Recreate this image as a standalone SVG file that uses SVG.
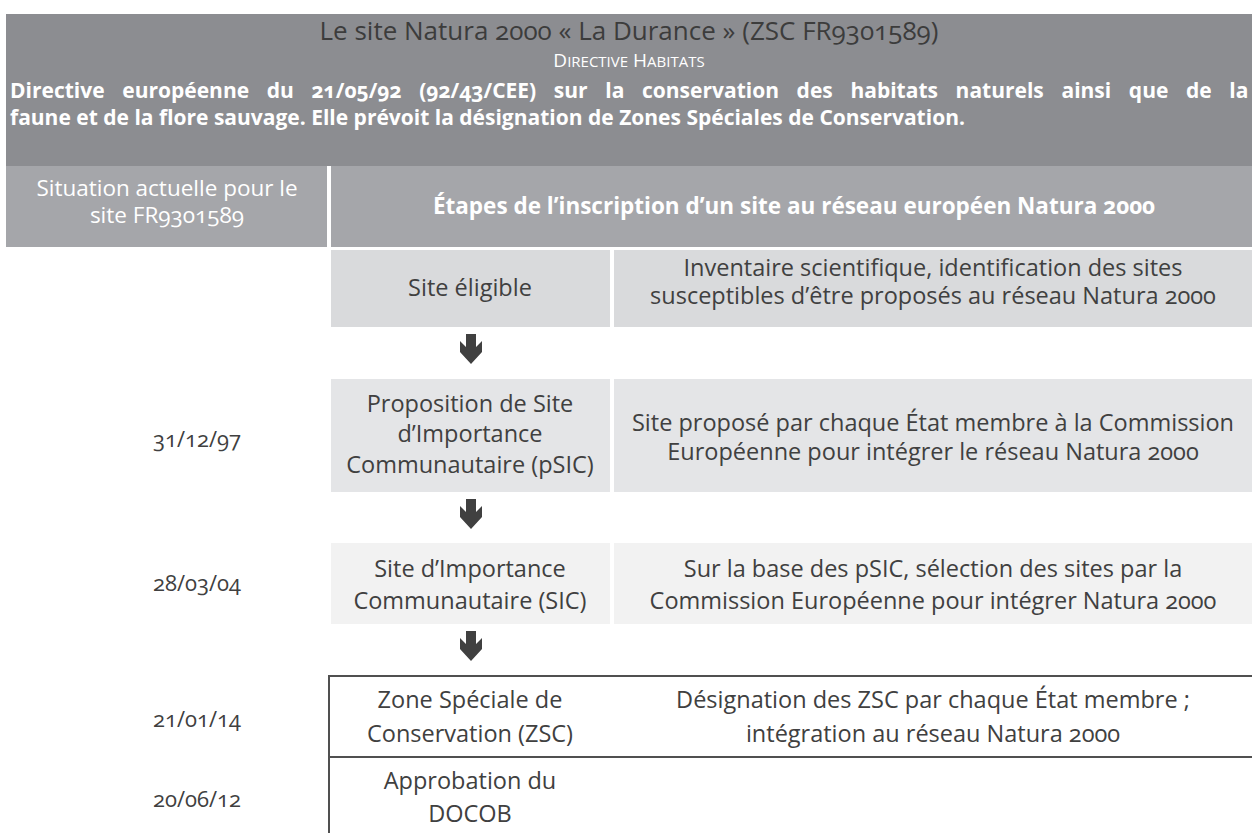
<svg xmlns="http://www.w3.org/2000/svg" width="1252" height="833" viewBox="0 0 1252 833">
<style>
text{font-family:"Open Sans",Lato,"Liberation Sans",sans-serif;font-variant-numeric:oldstyle-nums;text-anchor:middle}
.t{font-size:23.5px;fill:#404040}
.d{font-size:22px;fill:#404040}
.w{font-size:22.5px;fill:#ffffff}
.b{font-size:21px;fill:#ffffff;font-weight:bold}
.ln{stroke:#505050;stroke-width:2;fill:none}
.arr{fill:#404040}
</style>
<defs>
<polygon id="arrow" points="-5,0 5,0 5,13 11,7 11,18 0,30 -11,18 -11,7 -5,13"/>
</defs>
<rect width="1252" height="833" fill="#ffffff"/>
<g id="header">
<rect x="6" y="14" width="1246" height="152" fill="#8c8d91"/>
<text x="629" y="40" font-size="26" fill="#3c3c3c">Le site Natura 2000 « La Durance » (ZSC FR9301589)</text>
<text x="629" y="67" fill="#ffffff" font-size="19">D<tspan font-size="15">IRECTIVE</tspan> H<tspan font-size="15">ABITATS</tspan></text>
<text class="b" x="10" y="98" style="text-anchor:start" word-spacing="12.2">Directive européenne du 21/05/92 (92/43/CEE) sur la conservation des habitats naturels ainsi que de la</text>
<text class="b" x="10" y="125" style="text-anchor:start">faune et de la flore sauvage. Elle prévoit la désignation de Zones Spéciales de Conservation.</text>
</g>
<g id="col-situation">
<rect x="6" y="166" width="321" height="81" fill="#a5a6aa"/>
<text class="w" x="167" y="196">Situation actuelle pour le</text>
<text class="w" x="167" y="223">site FR9301589</text>
</g>
<g id="col-etapes">
<rect x="331" y="166" width="921" height="81" fill="#a5a6aa"/>
<text class="w" x="794" y="214" font-weight="bold" font-size="20.6">Étapes de l’inscription d’un site au réseau européen Natura 2000</text>
</g>
<g id="site-eligible">
<rect x="331" y="250" width="279" height="77" fill="#d9dadc"/>
<rect x="614" y="250" width="638" height="77" fill="#d9dadc"/>
<text class="t" x="470" y="296">Site éligible</text>
<text class="t" x="933" y="276">Inventaire scientifique, identification des sites</text>
<text class="t" x="933" y="304">susceptibles d’être proposés au réseau Natura 2000</text>
</g>
<g id="psic">
<rect x="331" y="379" width="279" height="113" fill="#e4e5e7"/>
<rect x="614" y="379" width="638" height="113" fill="#e4e5e7"/>
<text class="t" x="470" y="412">Proposition de Site</text>
<text class="t" x="470" y="442">d’Importance</text>
<text class="t" x="470" y="473">Communautaire (pSIC)</text>
<text class="t" x="933" y="431">Site proposé par chaque État membre à la Commission</text>
<text class="t" x="933" y="460">Européenne pour intégrer le réseau Natura 2000</text>
<text class="d" x="197" y="447">31/12/97</text>
</g>
<g id="sic">
<rect x="331" y="543" width="279" height="81" fill="#f2f2f2"/>
<rect x="614" y="543" width="638" height="81" fill="#f2f2f2"/>
<text class="t" x="470" y="577">Site d’Importance</text>
<text class="t" x="470" y="609">Communautaire (SIC)</text>
<text class="t" x="933" y="577">Sur la base des pSIC, sélection des sites par la</text>
<text class="t" x="933" y="609">Commission Européenne pour intégrer Natura 2000</text>
<text class="d" x="197" y="591">28/03/04</text>
</g>
<g id="zsc">
<text class="t" x="470" y="708">Zone Spéciale de</text>
<text class="t" x="470" y="742">Conservation (ZSC)</text>
<text class="t" x="933" y="708">Désignation des ZSC par chaque État membre ;</text>
<text class="t" x="933" y="742">intégration au réseau Natura 2000</text>
<text class="d" x="197" y="727">21/01/14</text>
</g>
<g id="docob">
<text class="t" x="470" y="789">Approbation du</text>
<text class="t" x="470" y="822">DOCOB</text>
<text class="d" x="197" y="807">20/06/12</text>
</g>
<g id="connectors">
<use href="#arrow" class="arr" x="471" y="334"/>
<use href="#arrow" class="arr" x="471" y="499"/>
<use href="#arrow" class="arr" x="471" y="631"/>
<path class="ln" d="M328,676 H1252 M329,675 V833 M329,757 H1252"/>
</g>
</svg>
